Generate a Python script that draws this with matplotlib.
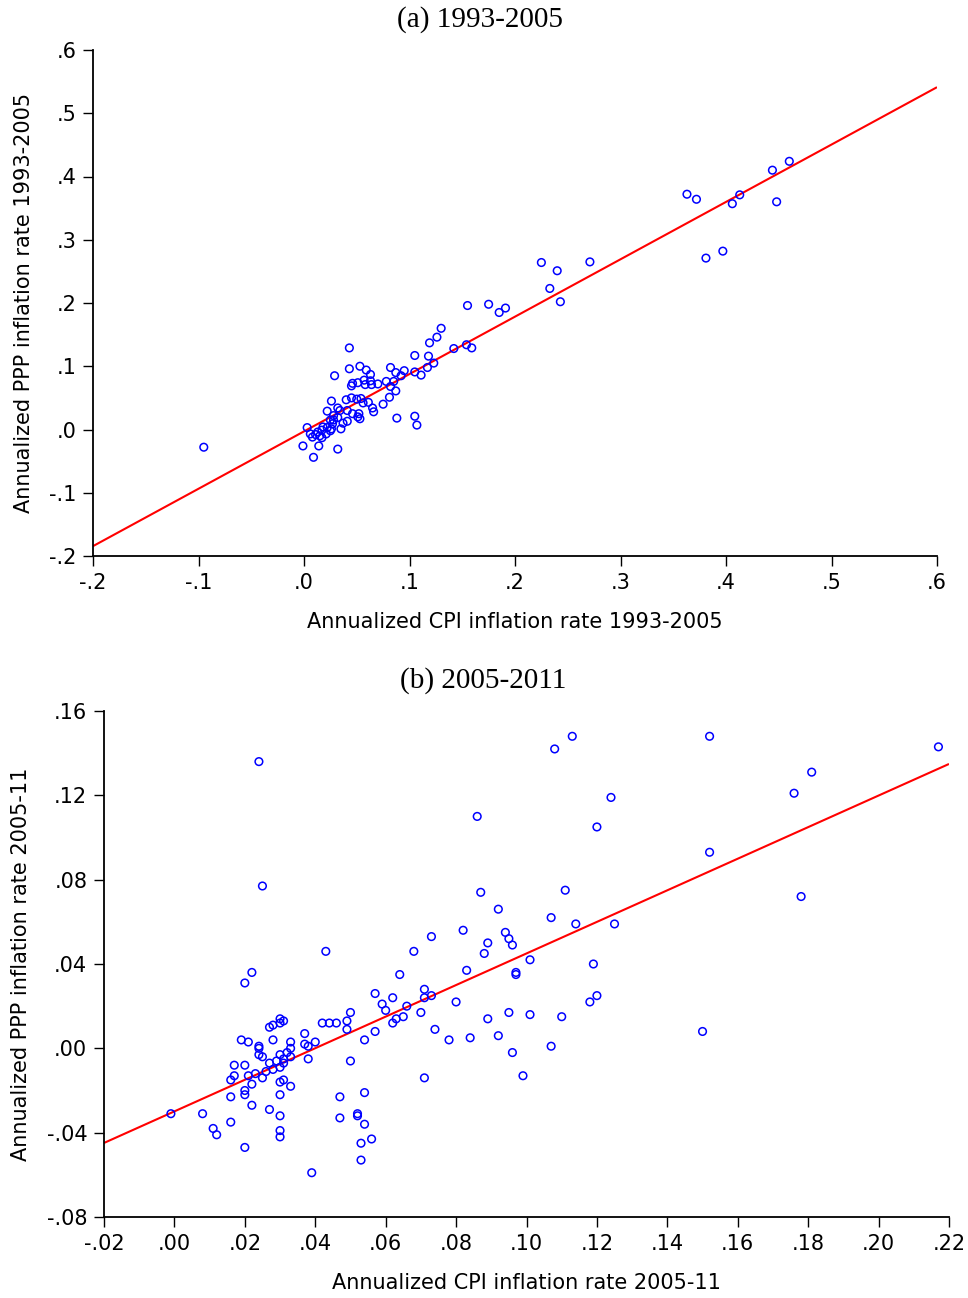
import matplotlib
matplotlib.use("Agg")
import matplotlib.pyplot as plt
import numpy as np

# ---------------- Panel (a) data: 1993-2005 ----------------
cpi_a = [-0.095,
         0.175, 0.185, 0.191, 0.225, 0.240, 0.233, 0.243, 0.271, 0.363, 0.372, 0.381, 0.397, 0.406, 0.413, 0.444, 0.460, 0.448,
         0.155, 0.130, 0.126,
         0.119, 0.105, 0.118, 0.142, 0.154, 0.159, 0.123, 0.117, 0.111, 0.105, 0.095, 0.092, 0.087, 0.082, 0.078, 0.085, 0.082,
         0.087, 0.081, 0.075, 0.088, 0.105, 0.107,
         0.043, 0.029, 0.043, 0.053, 0.059, 0.063, 0.046, 0.045, 0.051, 0.057, 0.063, 0.058, 0.064, 0.070, 0.026, 0.040, 0.045,
         0.050, 0.054, 0.056, 0.061, 0.065, 0.066, 0.022, 0.032, 0.034, 0.041, 0.046, 0.052, 0.053, 0.028, 0.032, 0.041, 0.051,
         0.025, 0.027, 0.022, 0.026, 0.018, 0.017, 0.021, 0.013, 0.015, 0.017, 0.011, 0.008, 0.006, 0.003, 0.035, 0.032, 0.009,
         -0.001, 0.014, 0.025, 0.028, 0.037]
ppp_a = [-0.028,
         0.198, 0.185, 0.192, 0.264, 0.251, 0.223, 0.202, 0.265, 0.372, 0.364, 0.271, 0.282, 0.357, 0.371, 0.410, 0.424, 0.360,
         0.196, 0.160, 0.146,
         0.137, 0.117, 0.116, 0.128, 0.134, 0.129, 0.105, 0.098, 0.086, 0.091, 0.093, 0.085, 0.090, 0.098, 0.076, 0.076, 0.068,
         0.061, 0.051, 0.040, 0.018, 0.021, 0.007,
         0.129, 0.085, 0.096, 0.100, 0.094, 0.087, 0.073, 0.069, 0.074, 0.078, 0.077, 0.071, 0.071, 0.072, 0.045, 0.047, 0.050,
         0.048, 0.049, 0.042, 0.043, 0.034, 0.028, 0.029, 0.034, 0.030, 0.030, 0.025, 0.025, 0.017, 0.022, 0.019, 0.013, 0.020,
         0.015, 0.009, 0.003, 0.001, 0.004, -0.001, -0.007, -0.004, -0.010, -0.013, -0.008, -0.012, -0.007, 0.003, 0.001, -0.031, -0.044,
         -0.026, -0.026, -0.002, 0.015, 0.010]
fit_a = (-0.003, 0.907)  # intercept, slope

# ---------------- Panel (b) data: 2005-2011 ----------------
cpi_b = [-0.001, 0.008, 0.011, 0.012, 0.024, 0.025, 0.020, 0.022, 0.020, 0.043, 0.039,
         0.019, 0.021, 0.024, 0.024, 0.025, 0.017, 0.020, 0.017, 0.016, 0.021, 0.023, 0.025, 0.022, 0.020, 0.020, 0.016, 0.022, 0.016,
         0.057, 0.059, 0.062, 0.060, 0.050, 0.049, 0.049, 0.042, 0.044, 0.046, 0.057, 0.062, 0.063, 0.054, 0.050, 0.047, 0.054,
         0.030, 0.031, 0.030, 0.027, 0.028, 0.028, 0.033, 0.037, 0.037, 0.038, 0.040, 0.033, 0.032, 0.030, 0.033, 0.031, 0.029,
         0.031, 0.027, 0.038, 0.028, 0.026, 0.030, 0.030, 0.031, 0.033, 0.030, 0.024,
         0.087, 0.092, 0.111, 0.107, 0.114, 0.082, 0.094, 0.095, 0.096, 0.089, 0.088, 0.073, 0.068, 0.101, 0.083, 0.097, 0.097,
         0.064, 0.071, 0.073, 0.071, 0.066, 0.070, 0.080, 0.065, 0.074, 0.089, 0.095, 0.101, 0.110, 0.078, 0.084, 0.092, 0.096,
         0.107, 0.071, 0.099,
         0.108, 0.113, 0.124, 0.120, 0.119, 0.118, 0.120, 0.125, 0.150, 0.152, 0.152, 0.176, 0.181, 0.178, 0.217, 0.086,
         0.052, 0.052, 0.047, 0.054, 0.056, 0.053, 0.053, 0.030, 0.030, 0.030, 0.027]
ppp_b = [-0.031, -0.031, -0.038, -0.041, 0.136, 0.077, -0.047, 0.036, 0.031, 0.046, -0.059,
         0.004, 0.003, 0.000, -0.003, -0.004, -0.008, -0.008, -0.013, -0.015, -0.013, -0.012, -0.014, -0.017, -0.020, -0.022, -0.023, -0.027, -0.035,
         0.026, 0.021, 0.024, 0.018, 0.017, 0.013, 0.009, 0.012, 0.012, 0.012, 0.008, 0.012, 0.014, 0.004, -0.006, -0.023, -0.021,
         0.014, 0.013, 0.012, 0.010, 0.011, 0.004, 0.003, 0.007, 0.002, 0.001, 0.003, 0.000, -0.002, -0.003, -0.004, -0.005, -0.006,
         -0.007, -0.007, -0.005, -0.010, -0.011, -0.009, -0.016, -0.015, -0.018, -0.022, 0.001,
         0.074, 0.066, 0.075, 0.062, 0.059, 0.056, 0.055, 0.052, 0.049, 0.050, 0.045, 0.053, 0.046, 0.042, 0.037, 0.036, 0.035,
         0.035, 0.028, 0.025, 0.024, 0.020, 0.017, 0.022, 0.015, 0.009, 0.014, 0.017, 0.016, 0.015, 0.004, 0.005, 0.006, -0.002,
         0.001, -0.014, -0.013,
         0.142, 0.148, 0.119, 0.105, 0.040, 0.022, 0.025, 0.059, 0.008, 0.148, 0.093, 0.121, 0.131, 0.072, 0.143, 0.110,
         -0.031, -0.032, -0.033, -0.036, -0.043, -0.045, -0.053, -0.032, -0.039, -0.042, -0.029]
fit_b = (-0.0299, 0.749)

xticks_a = [-0.2, -0.1, 0.0, 0.1, 0.2, 0.3, 0.4, 0.5, 0.6]
xticklabels_a = ["-.2", "-.1", ".0", ".1", ".2", ".3", ".4", ".5", ".6"]
yticks_a = [-0.2, -0.1, 0.0, 0.1, 0.2, 0.3, 0.4, 0.5, 0.6]
yticklabels_a = ["-.2", "-.1", ".0", ".1", ".2", ".3", ".4", ".5", ".6"]

xticks_b = [-0.02, 0.0, 0.02, 0.04, 0.06, 0.08, 0.10, 0.12, 0.14, 0.16, 0.18, 0.20, 0.22]
xticklabels_b = ["-.02", ".00", ".02", ".04", ".06", ".08", ".10", ".12", ".14", ".16", ".18", ".20", ".22"]
yticks_b = [-0.08, -0.04, 0.0, 0.04, 0.08, 0.12, 0.16]
yticklabels_b = ["-.08", "-.04", ".00", ".04", ".08", ".12", ".16"]

sans = ["Liberation Sans Narrow", "DejaVu Sans"]
serif = ["Liberation Serif", "DejaVu Serif"]

fig = plt.figure(figsize=(9.68, 12.98), dpi=100)

def panel(ax, x, y, fit, xt, xtl, yt, ytl, xlabel, ylabel):
    ax.scatter(x, y, s=30, facecolors="none", edgecolors="#0000ff", linewidths=1.1, zorder=3)
    xlim = (xt[0], xt[-1])
    xs = np.array(xlim)
    ax.plot(xs, fit[0] + fit[1] * xs, color="#ff0000", lw=1.5, zorder=2, solid_capstyle="butt")
    ax.set_xlim(*xlim)
    ax.set_ylim(yt[0], yt[-1])
    ax.set_xticks(xt)
    ax.set_xticklabels(xtl)
    ax.set_yticks(yt)
    ax.set_yticklabels(ytl)
    for s in ("top", "right"):
        ax.spines[s].set_visible(False)
    for s in ("left", "bottom"):
        ax.spines[s].set_linewidth(1.3)
    ax.tick_params(direction="out", length=7, width=1.0, labelsize=15, pad=5)
    for lab in ax.get_xticklabels() + ax.get_yticklabels():
        lab.set_family(sans)
    ax.set_xlabel(xlabel, fontsize=15, family=sans, labelpad=14)
    ax.set_ylabel(ylabel, fontsize=15, family=sans, labelpad=11)

ax1 = fig.add_axes([93 / 968, 1 - 556 / 1298, 844 / 968, 506 / 1298])
panel(ax1, cpi_a, ppp_a, fit_a, xticks_a, xticklabels_a, yticks_a, yticklabels_a,
      "Annualized CPI inflation rate 1993-2005", "Annualized PPP inflation rate 1993-2005")

ax2 = fig.add_axes([104 / 968, 1 - 1217 / 1298, 845 / 968, 506 / 1298])
panel(ax2, cpi_b, ppp_b, fit_b, xticks_b, xticklabels_b, yticks_b, yticklabels_b,
      "Annualized CPI inflation rate 2005-11", "Annualized PPP inflation rate 2005-11")

fig.text(480 / 968, 1 - 20 / 1298, "(a) 1993-2005", ha="center", va="center", fontsize=21, family=serif)
fig.text(483 / 968, 1 - 681 / 1298, "(b) 2005-2011", ha="center", va="center", fontsize=21, family=serif)

fig.savefig("out.png", dpi=100)
